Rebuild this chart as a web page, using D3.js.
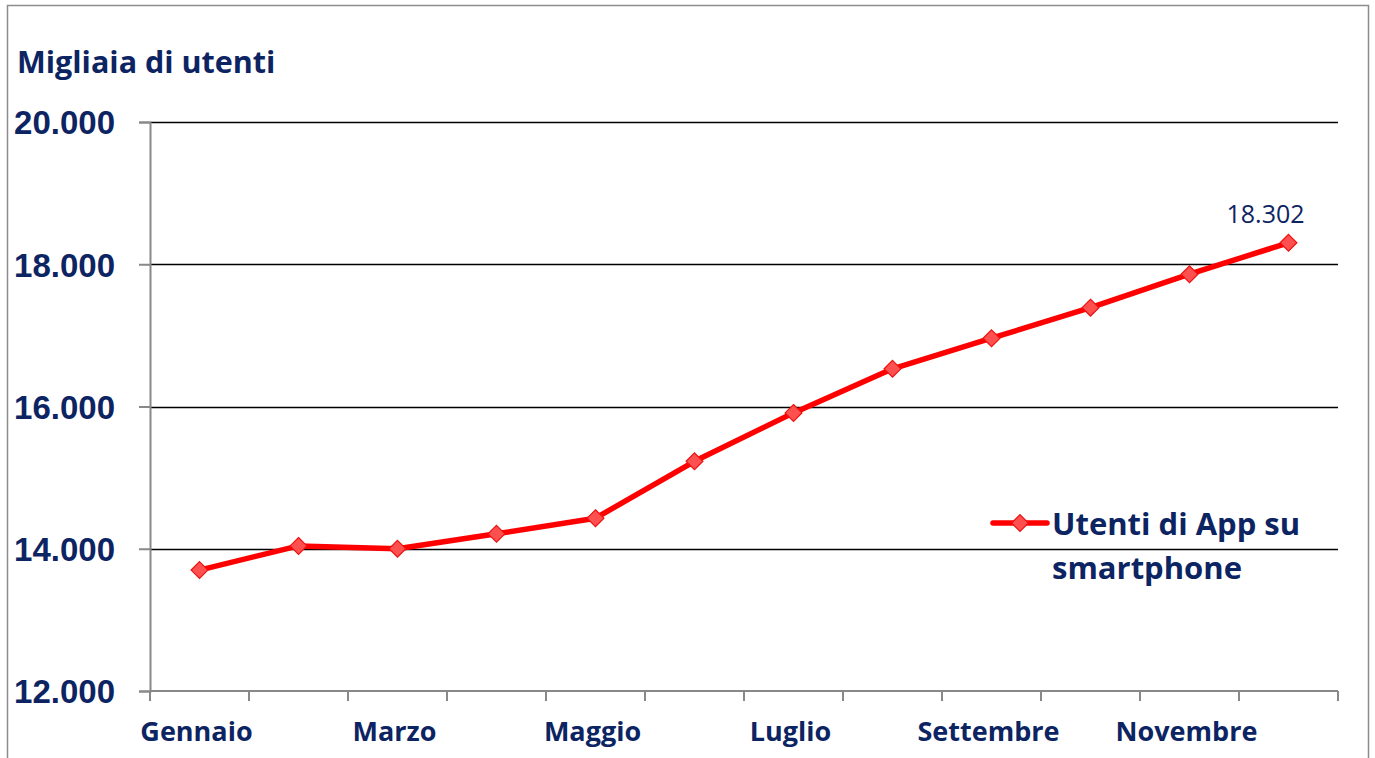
<!DOCTYPE html>
<html>
<head>
<meta charset="utf-8">
<script src="https://cdn.jsdelivr.net/npm/d3@7"></script>
<style>
  html, body { margin: 0; padding: 0; background: #fff; }
  svg { display: block; font-family: "Open Sans", Lato, "Liberation Sans", sans-serif; }
</style>
</head>
<body>
<svg id="chart" width="1375" height="758"></svg>
<script>
// Monthly app users on smartphones (thousands)
const months = ["Gennaio","Febbraio","Marzo","Aprile","Maggio","Giugno","Luglio","Agosto","Settembre","Ottobre","Novembre","Dicembre"];
const users = [13700, 14040, 14000, 14210, 14430, 15230, 15910, 16530, 16960, 17390, 17860, 18302];
const yTicks = [12000, 14000, 16000, 18000, 20000];
const shownMonths = ["Gennaio","Marzo","Maggio","Luglio","Settembre","Novembre"];
const seriesName = ["Utenti di App su", "smartphone"];

const navy = "#0d2463";
const red = "#ff0000";
const svg = d3.select("#chart");

// outer frame
svg.append("rect").attr("x", 7.5).attr("y", 5.5).attr("width", 1361).attr("height", 770)
  .attr("fill", "none").attr("stroke", "#8c8c8c").attr("stroke-width", 1.5);

const plotLeft = 150, plotRight = 1338, plotTop = 122, plotBottom = 691;
const x = d3.scaleBand().domain(months).range([plotLeft, plotRight]);
const y = d3.scaleLinear().domain([12000, 20000]).range([plotBottom, plotTop]);
const fmt = d3.formatLocale({decimal: ",", thousands: ".", grouping: [3]}).format(",d");

// gridlines
svg.append("g").selectAll("line").data(yTicks.filter(t => t > 12000)).join("line")
  .attr("x1", plotLeft).attr("x2", plotRight)
  .attr("y1", d => Math.round(y(d)) + 0.5).attr("y2", d => Math.round(y(d)) + 0.5)
  .attr("stroke", "#000").attr("stroke-width", 1.3);

// y axis
const yAxis = svg.append("g").attr("transform", `translate(${plotLeft},0)`)
  .call(d3.axisLeft(y).tickValues(yTicks).tickSize(11).tickPadding(24).tickFormat(fmt));
yAxis.select(".domain").attr("stroke", "#888").attr("stroke-width", 2);
yAxis.selectAll(".tick line").attr("stroke", "#888").attr("stroke-width", 2);
yAxis.selectAll(".tick text").attr("fill", navy).attr("font-size", 33).attr("font-weight", 700)
  .attr("dy", "0.36em");

// x axis with ticks on category boundaries
const xAxisG = svg.append("g").attr("transform", `translate(0,${plotBottom})`);
xAxisG.append("line").attr("x1", plotLeft).attr("x2", plotRight).attr("y1", 0).attr("y2", 0)
  .attr("stroke", "#888").attr("stroke-width", 2);
const bounds = months.map(m => x(m)).concat([plotRight]);
xAxisG.selectAll("line.tk").data(bounds).join("line").attr("class", "tk")
  .attr("x1", d => d).attr("x2", d => d).attr("y1", 0).attr("y2", 10)
  .attr("stroke", "#888").attr("stroke-width", 2);
xAxisG.selectAll("text").data(shownMonths).join("text")
  .attr("x", d => x(d) + x.bandwidth() / 2 - 3).attr("y", 50)
  .attr("text-anchor", "middle").attr("fill", navy)
  .attr("font-size", 27).attr("font-weight", 700).text(d => d);

// axis title
svg.append("text").attr("x", 17).attr("y", 73).attr("fill", navy)
  .attr("font-size", 30.5).attr("font-weight", 700).text("Migliaia di utenti");

// series line
const cx = m => x(m) + x.bandwidth() / 2;
const pts = months.map((m, i) => [cx(m), y(users[i])]);
svg.append("path").attr("d", d3.line()(pts)).attr("fill", "none")
  .attr("stroke", red).attr("stroke-width", 5.5).attr("stroke-linejoin", "round");

const diamond = d3.symbol().type(d3.symbolDiamond2).size(180);
svg.append("g").selectAll("path").data(pts).join("path")
  .attr("transform", d => `translate(${d[0]},${d[1]})`)
  .attr("d", diamond).attr("fill", "#ff5050").attr("stroke", "#ee1111").attr("stroke-width", 1.2);

// value label on last point
const last = pts[pts.length - 1];
svg.append("text").attr("x", last[0] - 23).attr("y", last[1] - 20)
  .attr("text-anchor", "middle").attr("fill", navy).attr("font-size", 25)
  .text(fmt(users[users.length - 1]));

// legend
const lg = svg.append("g").attr("transform", "translate(993,523)");
lg.append("line").attr("x1", 0).attr("x2", 54).attr("y1", 0).attr("y2", 0)
  .attr("stroke", red).attr("stroke-width", 5.5).attr("stroke-linecap", "round");
lg.append("path").attr("transform", "translate(27,0)").attr("d", diamond)
  .attr("fill", "#ff5050").attr("stroke", "#ee1111").attr("stroke-width", 1.2);
lg.selectAll("text").data(seriesName).join("text")
  .attr("x", 59).attr("y", (d, i) => 12 + i * 44).attr("fill", navy)
  .attr("font-size", 31).attr("font-weight", 700).text(d => d);
</script>
</body>
</html>
